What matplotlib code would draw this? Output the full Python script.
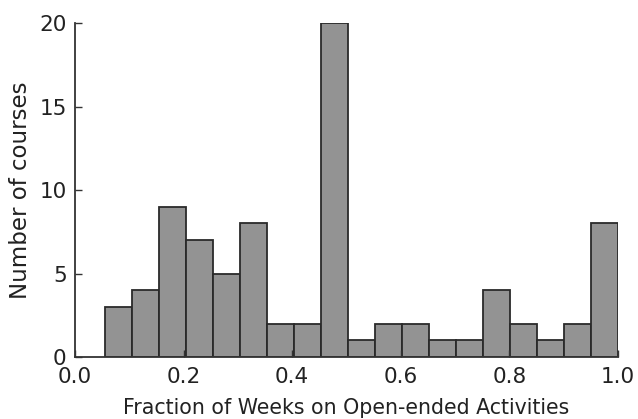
import numpy as np
import matplotlib
matplotlib.use("Agg")
import matplotlib.pyplot as plt

# ==============================
# Data: histogram counts
# ==============================
counts = [3, 4, 9, 7, 5, 8, 2, 2, 20, 1, 2, 2, 1, 1, 4, 2, 1, 2, 8]
lo, hi = 1 / 18, 1.0
edges = np.linspace(lo, hi, len(counts) + 1)

fig = plt.figure(figsize=(6.38, 4.19), dpi=100)
ax = fig.add_axes([0.1176, 0.148, 0.851, 0.797])

ax.bar(edges[:-1], counts, width=np.diff(edges), align='edge',
       color='#939393', edgecolor='#2a2a2a', linewidth=1.3)

ax.set_xlim(0, 1.0)
ax.set_ylim(0, 20)
ax.set_xticks([0.0, 0.2, 0.4, 0.6, 0.8, 1.0])
ax.set_yticks([0, 5, 10, 15, 20])

for s in ['top', 'right']:
    ax.spines[s].set_visible(False)
for s in ['left', 'bottom']:
    ax.spines[s].set_color('#333333')
    ax.spines[s].set_linewidth(1.3)

ax.tick_params(direction='in', length=5, width=1, colors='#333333',
               labelsize=15.5, labelcolor='#222222')
ax.tick_params(axis='y', pad=6)
ax.tick_params(axis='x', pad=7)
ax.set_xlabel("Fraction of Weeks on Open-ended Activities", fontsize=14.8,
              color='#222222', labelpad=8)
ax.set_ylabel("Number of courses", fontsize=16.5, color='#222222', labelpad=5)

fig.savefig("out.png", dpi=100)
